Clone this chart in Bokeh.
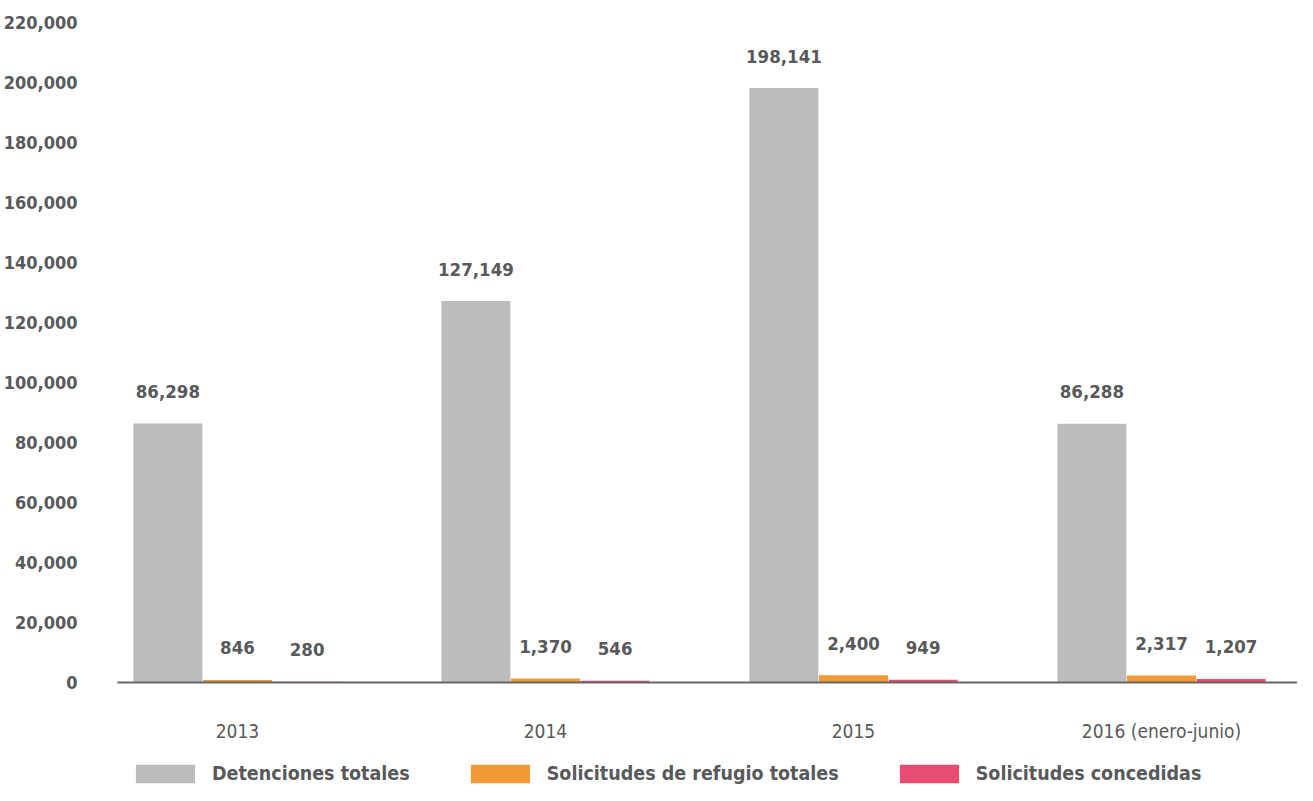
from bokeh.plotting import figure
from bokeh.layouts import column
from bokeh.models import ColumnDataSource, Range1d, FixedTicker, Legend, LegendItem
from bokeh.core.properties import value
from bokeh.embed import file_html
from bokeh.resources import INLINE

years = ["2013", "2014", "2015", "2016 (enero-junio)"]
detenciones = [86298, 127149, 198141, 86288]
solicitudes = [846, 1370, 2400, 2317]
concedidas = [280, 546, 949, 1207]
series_names = ["Detenciones totales", "Solicitudes de refugio totales", "Solicitudes concedidas"]
colors = ["#bcbcbc", "#f29a38", "#e74c72"]
y_ticks = list(range(0, 220001, 20000))

FONT = "'DejaVu Sans Condensed', sans-serif"
TXT = "#58595b"

p = figure(width=1297, height=745, output_backend="svg", toolbar_location=None,
           x_range=Range1d(-0.3896, 3.4416), y_range=Range1d(0, 223000),
           min_border_left=117, min_border_right=0, min_border_top=13, min_border_bottom=63)
p.outline_line_color = None
p.xgrid.grid_line_color = None
p.ygrid.grid_line_color = None

xs = list(range(len(years)))
w = 0.224
off = [-0.226, 0.0, 0.226]
for i, vals in enumerate([detenciones, solicitudes, concedidas]):
    src = ColumnDataSource(dict(x=[x + off[i] for x in xs], top=vals,
                                lab=[f"{v:,}" for v in vals]))
    p.vbar(x="x", top="top", width=w, source=src, fill_color=colors[i], line_color=None)
    p.text(x="x", y="top", text="lab", source=src, text_align="center", text_baseline="middle",
           y_offset=-32, text_font=value(FONT), text_font_size="18.5px", text_font_style="bold",
           text_color=TXT)

p.yaxis.ticker = FixedTicker(ticks=y_ticks)
p.yaxis.major_label_overrides = {t: f"{t:,}" for t in y_ticks}
p.yaxis.axis_line_color = None
p.yaxis.major_tick_line_color = None
p.yaxis.minor_tick_line_color = None
p.yaxis.major_label_standoff = 34
p.yaxis.major_label_text_font = FONT
p.yaxis.major_label_text_font_style = "bold"
p.yaxis.major_label_text_font_size = "18px"
p.yaxis.major_label_text_color = TXT

p.xaxis.ticker = FixedTicker(ticks=xs)
p.xaxis.major_label_overrides = {i: y for i, y in enumerate(years)}
p.xaxis.axis_line_color = "#666666"
p.xaxis.axis_line_width = 2
p.xaxis.major_tick_line_color = None
p.xaxis.minor_tick_line_color = None
p.xaxis.major_label_standoff = 31
p.xaxis.major_label_text_font = FONT
p.xaxis.major_label_text_font_size = "19px"
p.xaxis.major_label_text_color = TXT

# legend strip
lg = figure(width=1297, height=40, output_backend="svg", toolbar_location=None,
            x_range=Range1d(0, 1), y_range=Range1d(0, 1),
            x_axis_location=None, y_axis_location=None,
            min_border_left=0, min_border_right=0, min_border_top=0, min_border_bottom=0)
lg.outline_line_color = None
lg.xgrid.grid_line_color = None
lg.ygrid.grid_line_color = None
items = []
for n, c in zip(series_names, colors):
    r = lg.vbar(x=[5], top=[0.5], width=0.1, fill_color=c, line_color=None)
    items.append(LegendItem(label=n, renderers=[r]))
legend = Legend(items=items, orientation="horizontal", location=(11, 0))
legend.glyph_width = 74
legend.glyph_height = 23
legend.label_standoff = 10
legend.spacing = 53
legend.padding = 0
legend.margin = 0
legend.border_line_color = None
legend.background_fill_alpha = 0
legend.label_text_font = FONT
legend.label_text_font_style = "bold"
legend.label_text_font_size = "19.5px"
legend.label_text_color = TXT
lg.add_layout(legend, "center")

layout = column(p, lg, spacing=0)
open("out.html", "w").write(file_html(layout, INLINE))
